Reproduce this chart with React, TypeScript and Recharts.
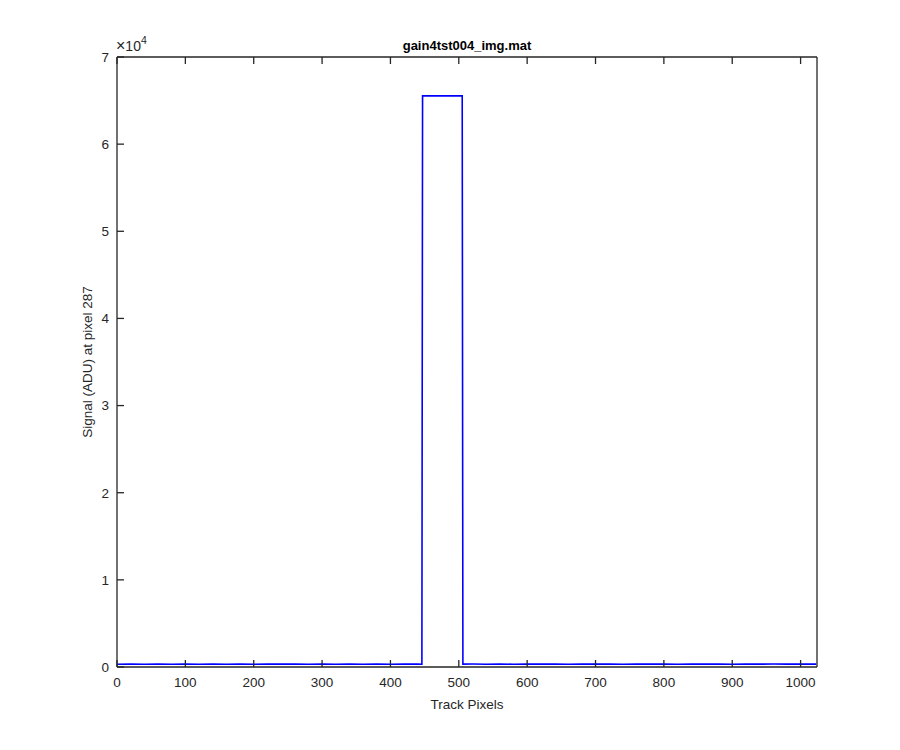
import { Line, LineChart, XAxis, YAxis } from "recharts";

// track pixel positions and signal values
const pixels = [
  0, 20, 40, 60, 80, 100, 120, 140, 160, 180, 200, 220, 240, 260, 280, 300, 320, 340, 360, 380, 400, 420, 440, 446,
  447, 505,
  506, 520, 540, 560, 580, 600, 620, 640, 660, 680, 700, 720, 740, 760, 780, 800, 820, 840, 860, 880, 900, 920, 940, 960,
  980, 1000, 1023,
];
const signal = [
  320, 335, 315, 330, 320, 340, 315, 330, 320, 335, 315, 330, 325, 335, 315, 330, 320, 340, 315, 330, 320, 335, 325, 320,
  65535, 65535,
  330, 340, 320, 335, 320, 340, 325, 335, 320, 340, 325, 340, 320, 335, 325, 340, 320, 335, 325, 340, 320, 335, 330, 340,
  325, 335, 330,
];
const xTicks = [0, 100, 200, 300, 400, 500, 600, 700, 800, 900, 1000];
const yTicks = [0, 10000, 20000, 30000, 40000, 50000, 60000, 70000];

const data = pixels.map((px, i) => ({ px, v: signal[i] }));

const AXIS = "#262626";
const FONT = "'Liberation Sans', Arial, sans-serif";
const tickStyle = { fontSize: 13.5, fill: AXIS, fontFamily: FONT };

export default function App() {
  return (
    <div style={{ position: "absolute", left: 0, top: 0, width: 900, height: 750, background: "#fff", fontFamily: FONT }}>
      <LineChart width={900} height={750} data={data} margin={{ top: 56, right: 82, bottom: 53, left: 77 }}>
        <XAxis
          xAxisId="b"
          dataKey="px"
          type="number"
          domain={[0, 1024]}
          ticks={xTicks}
          height={30}
          stroke={AXIS}
          strokeWidth={1.3}
          tick={tickStyle}
          tickSize={-7}
          tickMargin={17}
          allowDataOverflow
        />
        <XAxis
          xAxisId="t"
          dataKey="px"
          type="number"
          orientation="top"
          domain={[0, 1024]}
          ticks={xTicks}
          height={1}
          stroke={AXIS}
          strokeWidth={1.3}
          tickSize={-7}
          tickFormatter={() => ""}
        />
        <YAxis
          yAxisId="l"
          type="number"
          domain={[0, 70000]}
          ticks={yTicks}
          width={40}
          stroke={AXIS}
          strokeWidth={1.3}
          tick={tickStyle}
          tickSize={-7}
          tickMargin={15}
          tickFormatter={(v: number) => String(v / 10000)}
        />
        <YAxis
          yAxisId="r"
          type="number"
          orientation="right"
          domain={[0, 70000]}
          ticks={yTicks}
          width={1}
          stroke={AXIS}
          strokeWidth={1.3}
          tickSize={-7}
          tickFormatter={() => ""}
        />
        <Line
          xAxisId="b"
          yAxisId="l"
          dataKey="v"
          type="linear"
          stroke="#0000ff"
          strokeWidth={1.6}
          dot={false}
          isAnimationActive={false}
        />
      </LineChart>
      <div style={{ position: "absolute", left: 0, width: 934, top: 38, textAlign: "center", fontSize: 13, fontWeight: "bold", color: "#000" }}>
        gain4tst004_img.mat
      </div>
      <div style={{ position: "absolute", left: 116, top: 37, fontSize: 14, color: AXIS, whiteSpace: "nowrap" }}>
        <span style={{ fontSize: 16 }}>×</span>10
        <sup style={{ fontSize: 10.5, verticalAlign: "top", position: "relative", top: -3 }}>4</sup>
      </div>
      <div style={{ position: "absolute", left: 0, width: 934, top: 697, textAlign: "center", fontSize: 13.5, color: AXIS }}>
        Track Pixels
      </div>
      <div
        style={{
          position: "absolute",
          left: 87,
          top: 362,
          transform: "translate(-50%, -50%) rotate(-90deg)",
          whiteSpace: "nowrap",
          fontSize: 13.5,
          color: AXIS,
        }}
      >
        Signal (ADU) at pixel 287
      </div>
    </div>
  );
}
